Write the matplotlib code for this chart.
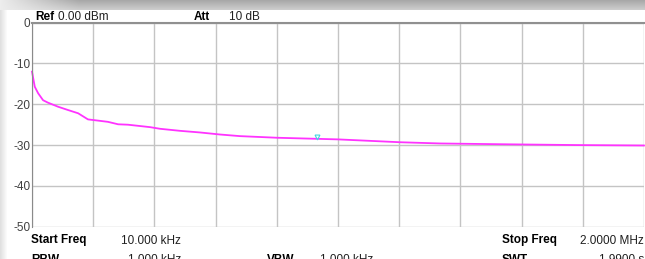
import numpy as np
import matplotlib.pyplot as plt

freq_khz = [10, 19, 30, 46, 62, 95, 127, 160, 192, 225, 257, 290, 322, 394, 426,
            491, 556, 621, 686, 807, 1005, 1207, 1337, 1548, 1792, 2000]
level_dbm = [-12.0, -15.7, -17.3, -19.0, -19.6, -20.6, -21.4, -22.2, -23.7, -24.0,
             -24.3, -24.9, -25.0, -25.6, -26.0, -26.5, -26.9, -27.4, -27.8, -28.2,
             -28.6, -29.3, -29.6, -29.8, -30.0, -30.1]

marker_freq = [937]
marker_level = [-27.9]

y_ticks = [0, -10, -20, -30, -40, -50]
start_f, stop_f = 10, 2000

W, H = 645, 259
fig = plt.figure(figsize=(W / 100, H / 100), dpi=100)
plt.rcParams['font.family'] = ['Liberation Sans', 'DejaVu Sans']
fs = 8.5

# fundo com faixa cinza no topo e na esquerda
bg = np.ones((H, W, 3))
top = np.linspace(0.66, 0.80, 10)
bg[:10, :, :] = top[:, None, None]
fade = np.linspace(0.0, 1.0, 80)
bg[:10, :80, :] = (bg[:10, :80, :] * fade[None, :, None] + 0.93 * (1 - fade[None, :, None]))
left = np.linspace(0.88, 1.0, 8)
bg[10:, :8, :] = left[None, :, None]
ax_bg = fig.add_axes([0, 0, 1, 1], zorder=-1)
ax_bg.imshow(bg, aspect='auto', extent=[0, 1, 0, 1])
ax_bg.axis('off')

# área do gráfico
x0, x1 = 32, 644
y0, y1 = 22.7, 226.7
ax = fig.add_axes([x0 / W, 1 - y1 / H, (x1 - x0) / W, (y1 - y0) / H])
ax.set_xlim(start_f, stop_f)
ax.set_ylim(-50, 0)
ax.set_xticks(np.linspace(start_f, stop_f, 11))
ax.set_yticks(y_ticks)
ax.set_yticklabels([str(t) for t in y_ticks], fontsize=fs, color='#404040')
ax.tick_params(axis='x', length=0, labelbottom=False)
ax.tick_params(axis='y', length=0, pad=1)
ax.grid(True, color='#c4c4c4', lw=1)
ax.set_axisbelow(True)
for s in ['right', 'bottom']:
    ax.spines[s].set_visible(False)
ax.spines['left'].set_color('#8a8a8a')
ax.spines['top'].set_color('#909090')
ax.spines['top'].set_linewidth(1.5)

ax.plot(freq_khz, level_dbm, color='#ff33ff', lw=1.3, clip_on=False)
ax.plot(marker_freq, marker_level, 'v', color='#40d8e0', ms=3.5, mfc='none', mew=0.8)


def txt(x, y, s, bold=False, ha='left', color='#202020'):
    fig.text(x / W, 1 - y / H, s, fontsize=fs, ha=ha, va='baseline',
             weight='bold' if bold else 'normal', color=color)


txt(35, 19.5, 'Ref', bold=True, color='black')
txt(58, 19.5, '0.00 dBm')
txt(194, 19.5, 'Att', bold=True, color='black')
txt(229, 19.5, '10 dB')

txt(31, 243.5, 'Start Freq', bold=True, color='black')
txt(181, 243.5, '10.000 kHz', ha='right')
txt(502, 243.5, 'Stop Freq', bold=True, color='black')
txt(644, 243.5, '2.0000 MHz', ha='right')

# linha de baixo cortada pela borda, como na referência
txt(31, 263, 'RBW', bold=True, color='black')
txt(181, 263, '1.000 kHz', ha='right')
txt(267, 263, 'VBW', bold=True, color='black')
txt(320, 263, '1.000 kHz')
txt(502, 263, 'SWT', bold=True, color='black')
txt(644, 263, '1.9900 s', ha='right')

fig.savefig('out.png', dpi=100)
